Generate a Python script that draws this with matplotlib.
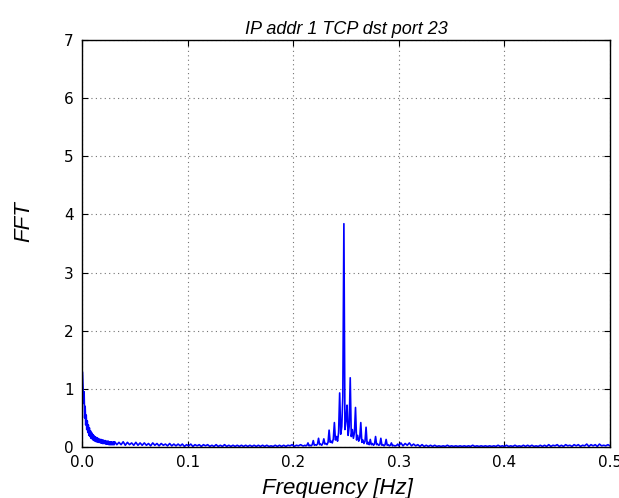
import numpy as np
import matplotlib
matplotlib.use("Agg")
import matplotlib.pyplot as plt

plt.rcParams['font.family'] = ['Liberation Sans', 'DejaVu Sans']

title = "IP addr 1 TCP dst port 23"
xlabel = "Frequency [Hz]"
ylabel = "FFT"
xticks = [0.0, 0.1, 0.2, 0.3, 0.4, 0.5]
yticks = [0, 1, 2, 3, 4, 5, 6, 7]

# Segment A: 0.0005 .. 0.0305, step 0.0005
segA_start, segA_step = 0.0005, 0.0005
segA_vals = [1.28, 1.00, 0.75, 0.95, 0.50, 0.70, 0.38, 0.55, 0.30, 0.45,
             0.25, 0.38, 0.20, 0.33, 0.18, 0.28, 0.15, 0.25, 0.14, 0.22,
             0.12, 0.20, 0.11, 0.18, 0.10, 0.17, 0.09, 0.16, 0.09, 0.15,
             0.08, 0.14, 0.08, 0.13, 0.07, 0.13, 0.07, 0.12, 0.06, 0.12,
             0.06, 0.11, 0.06, 0.11, 0.05, 0.10, 0.05, 0.10, 0.05, 0.10,
             0.04, 0.09, 0.04, 0.09, 0.04, 0.09, 0.04, 0.08, 0.04, 0.09,
             0.04]

# Segment B: 0.031 .. 0.209, step 0.002
segB_start, segB_step = 0.031, 0.002
segB_vals = [0.09, 0.04, 0.08, 0.04, 0.09, 0.03, 0.08, 0.04, 0.07, 0.03,
             0.08, 0.03, 0.07, 0.03, 0.07, 0.03, 0.06, 0.02, 0.07, 0.03,
             0.06, 0.02, 0.06, 0.03, 0.05, 0.02, 0.06, 0.02, 0.05, 0.02,
             0.05, 0.02, 0.05, 0.01, 0.04, 0.02, 0.05, 0.01, 0.04, 0.02,
             0.04, 0.01, 0.04, 0.02, 0.04, 0.01, 0.03, 0.01, 0.04, 0.01,
             0.03, 0.01, 0.04, 0.01, 0.03, 0.01, 0.03, 0.01, 0.03, 0.01,
             0.03, 0.01, 0.03, 0.01, 0.03, 0.01, 0.03, 0.01, 0.03, 0.01,
             0.03, 0.01, 0.03, 0.01, 0.02, 0.01, 0.03, 0.01, 0.03, 0.01,
             0.03, 0.01, 0.03, 0.02, 0.04, 0.01, 0.03, 0.02, 0.04, 0.02]

# Segment C: 0.210 .. 0.300, step 0.001 (peak region)
segC_start, segC_step = 0.210, 0.001
segC_vals = [0.02, 0.03, 0.02, 0.03, 0.07, 0.02, 0.03, 0.02, 0.04, 0.11,
             0.03, 0.04, 0.03, 0.05, 0.15, 0.04, 0.05, 0.03, 0.06, 0.14,
             0.05, 0.06, 0.04, 0.08, 0.29, 0.08, 0.10, 0.07, 0.14, 0.42,
             0.12, 0.18, 0.10, 0.25, 0.93, 0.22, 0.35, 0.87, 3.84, 0.30,
             0.45, 0.72, 0.20, 0.35, 1.19, 0.18, 0.30, 0.15, 0.25, 0.68,
             0.12, 0.20, 0.10, 0.15, 0.42, 0.08, 0.12, 0.06, 0.10, 0.34,
             0.05, 0.08, 0.04, 0.13, 0.04, 0.06, 0.03, 0.05, 0.18, 0.04,
             0.05, 0.03, 0.04, 0.15, 0.03, 0.04, 0.02, 0.04, 0.13, 0.03,
             0.04, 0.02, 0.03, 0.07, 0.02, 0.03, 0.02, 0.02, 0.03, 0.05,
             0.02]

# Segment D: 0.302 .. 0.500, step 0.002
segD_start, segD_step = 0.302, 0.002
segD_vals = [0.07, 0.02, 0.06, 0.03, 0.07, 0.02, 0.05, 0.02, 0.04, 0.01,
             0.04, 0.01, 0.03, 0.01, 0.03, 0.01, 0.03, 0.01, 0.02, 0.01,
             0.02, 0.01, 0.03, 0.01, 0.02, 0.01, 0.02, 0.01, 0.02, 0.01,
             0.02, 0.01, 0.02, 0.01, 0.03, 0.01, 0.02, 0.01, 0.02, 0.01,
             0.02, 0.01, 0.02, 0.01, 0.02, 0.01, 0.03, 0.01, 0.02, 0.01,
             0.03, 0.01, 0.02, 0.01, 0.03, 0.01, 0.02, 0.01, 0.03, 0.01,
             0.03, 0.01, 0.03, 0.01, 0.02, 0.01, 0.03, 0.01, 0.03, 0.01,
             0.04, 0.01, 0.03, 0.02, 0.04, 0.01, 0.03, 0.01, 0.04, 0.02,
             0.03, 0.01, 0.04, 0.02, 0.04, 0.01, 0.03, 0.02, 0.05, 0.01,
             0.04, 0.02, 0.04, 0.01, 0.05, 0.02, 0.03, 0.02, 0.04, 0.02]

freqs, amps = [], []
for start, step, vals in [(segA_start, segA_step, segA_vals),
                          (segB_start, segB_step, segB_vals),
                          (segC_start, segC_step, segC_vals),
                          (segD_start, segD_step, segD_vals)]:
    freqs.extend(start + step * np.arange(len(vals)))
    amps.extend(vals)
freqs = np.array(freqs)
amps = np.array(amps)

fig = plt.figure(figsize=(6.19, 4.98), dpi=100)
ax = fig.add_axes([82/619, 51/498, 528/619, 407/498])
ax.plot(freqs, amps, color='#0000ff', linewidth=1.2)
ax.set_xlim(0, 0.5)
ax.set_ylim(0, 7)
ax.set_xticks(xticks)
ax.set_yticks(yticks)
ax.set_xticklabels([f"{v:.1f}" for v in xticks], family='DejaVu Sans')
ax.set_yticklabels([str(v) for v in yticks], family='DejaVu Sans')
ax.grid(True, linestyle=(0, (1, 3)), color='0.45', linewidth=0.8)
ax.tick_params(direction='in', top=True, right=True, length=4, labelsize=11,
               pad=6)
for s in ax.spines.values():
    s.set_linewidth(1.0)
ax.set_title(title, fontsize=13, style='italic', pad=4)
ax.set_xlabel(xlabel, fontsize=16, style='italic')
ax.xaxis.set_label_coords(0.483, -0.075)
ax.set_ylabel(ylabel, fontsize=16, style='italic')
ax.yaxis.set_label_coords(-0.09, 0.553)
fig.savefig("out.png", dpi=100)
